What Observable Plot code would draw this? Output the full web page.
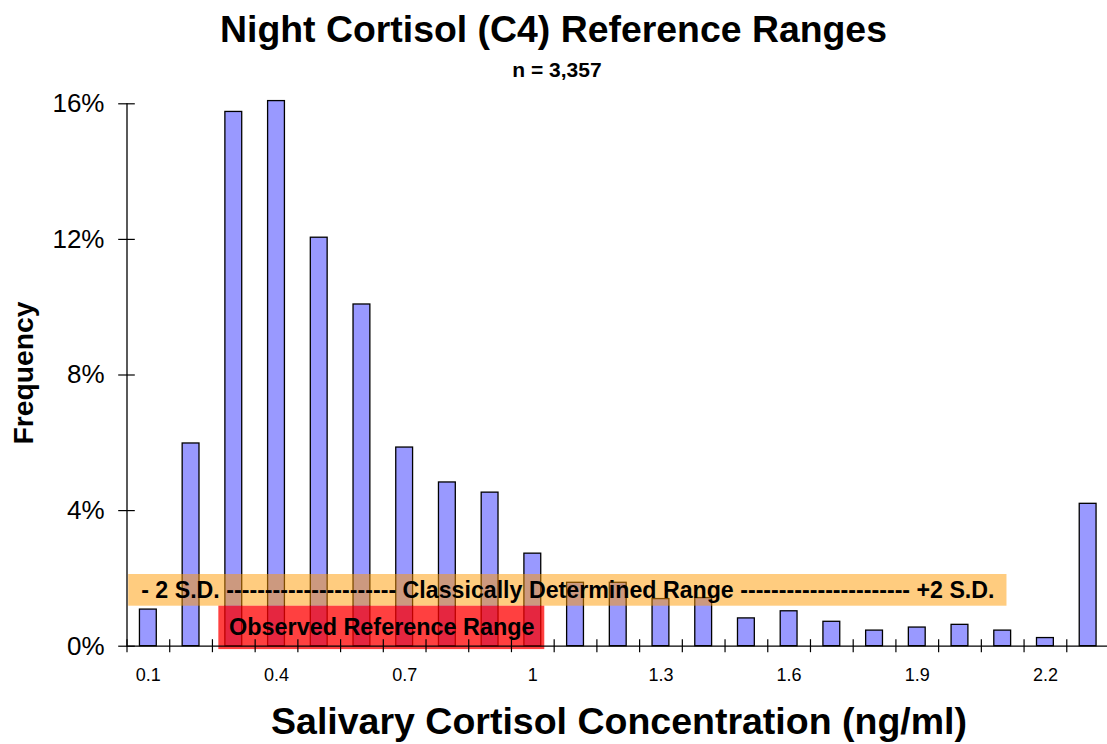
<!DOCTYPE html>
<html>
<head>
<meta charset="utf-8">
<script src="https://cdn.jsdelivr.net/npm/d3@7"></script>
<script src="https://cdn.jsdelivr.net/npm/@observablehq/plot@0.6"></script>
<style>
  html, body { margin: 0; padding: 0; background: #ffffff; overflow: hidden; }
  #wrap { position: relative; width: 1107px; height: 744px; overflow: hidden; background: #ffffff;
          font-family: "Liberation Sans", Arial, Helvetica, sans-serif; color: #000; }
  #chart { position: absolute; left: 0; top: 0; }
  .lbl { position: absolute; white-space: nowrap; font-weight: bold; line-height: 1; transform: translateX(-50%); }
</style>
</head>
<body>
<div id="wrap">
  <div id="chart"></div>
  <div class="lbl" id="title" style="left:553.5px; top:11.3px; font-size:37.4px;">Night Cortisol (C4) Reference Ranges</div>
  <div class="lbl" id="subtitle" style="left:557px; top:59px; font-size:21px;">n = 3,357</div>
  <div class="lbl" id="xtitle" style="left:619px; top:703.3px; font-size:37.5px;">Salivary Cortisol Concentration (ng/ml)</div>
  <div class="lbl" id="ytitle" style="left:23px; top:373px; font-size:28.3px; transform: translate(-50%,-50%) rotate(-90deg);">Frequency</div>
</div>
<script>
// ---- data ----
const concentrations = [0.1, 0.2, 0.3, 0.4, 0.5, 0.6, 0.7, 0.8, 0.9, 1.0, 1.1, 1.2,
                        1.3, 1.4, 1.5, 1.6, 1.7, 1.8, 1.9, 2.0, 2.1, 2.2, 2.3];
const frequencies = [1.08, 5.98, 15.76, 16.08, 12.05, 10.08, 5.86, 4.83, 4.53, 2.73, 1.87, 1.87,
                     1.39, 1.42, 0.82, 1.03, 0.72, 0.46, 0.55, 0.63, 0.46, 0.24, 4.20];
const xTickLabels = [0.1, 0.4, 0.7, 1.0, 1.3, 1.6, 1.9, 2.2];
const yTicks = [0, 4, 8, 12, 16];

const classicalRangeX = [0.054, 2.11];
const classicalRangeY = [1.18, 2.115];
const classicalLabel = "- 2 S.D. ---------------------- Classically Determined Range ---------------------- +2 S.D.";
const observedRangeX = [0.265, 1.028];
const observedRangeY = [-0.1, 1.18];
const observedLabel = "Observed Reference Range";

// ---- tables ----
const step = 0.1;
const bars = concentrations.map((c, i) => ({c, f: frequencies[i]}));
const boundaries = concentrations.map(c => +(c - step / 2).toFixed(2));
const xDomain = [concentrations[0] - step / 2, concentrations[concentrations.length - 1] + step / 2];
const halfBar = 0.0197;
const ranges = [
  {x1: classicalRangeX[0], x2: classicalRangeX[1], y1: classicalRangeY[0], y2: classicalRangeY[1], label: classicalLabel, fill: "#FF9900", op: 0.5, size: 23.2},
  {x1: observedRangeX[0], x2: observedRangeX[1], y1: observedRangeY[0], y2: observedRangeY[1], label: observedLabel, fill: "#FF0000", op: 0.75, size: 23.4}
];

const chart = Plot.plot({
  width: 1107,
  height: 744,
  marginLeft: 126.5,
  marginRight: -2,
  marginTop: 103.3,
  marginBottom: 98.3,
  x: {type: "linear", domain: xDomain, label: null},
  y: {domain: [0, 16], label: null},
  style: {fontFamily: "'Liberation Sans', Arial, sans-serif", color: "#000", background: "transparent", overflow: "visible"},
  marks: [
    Plot.rectY(bars, {x1: d => d.c - halfBar, x2: d => d.c + halfBar, y1: 0, y2: "f",
                      fill: "#9999FF", stroke: "#000", strokeWidth: 1.3}),
    Plot.rect(ranges, {x1: "x1", x2: "x2", y1: "y1", y2: "y2", fill: "fill", fillOpacity: "op"}),
    Plot.text(ranges.slice(0, 1), {x: d => (d.x1 + d.x2) / 2, y: d => (d.y1 + d.y2) / 2, text: "label",
                       fontSize: ranges[0].size, fontWeight: "bold", fill: "#000"}),
    Plot.text(ranges.slice(1), {x: d => (d.x1 + d.x2) / 2, y: d => (d.y1 + d.y2) / 2, text: "label",
                       fontSize: ranges[1].size, fontWeight: "bold", fill: "#000"}),
    Plot.ruleY([0], {stroke: "#000", strokeWidth: 1.3}),
    Plot.ruleX([xDomain[0]], {y1: 0, y2: 16, stroke: "#000", strokeWidth: 1.3}),
    Plot.axisY(yTicks, {tickSize: 16.6, dx: 8.3, tickPadding: 14.2, tickFormat: d => d + "%",
                        fontSize: 26, label: null, strokeWidth: 1.2}),
    Plot.axisX(boundaries, {tickSize: 13, dy: -6.5, tickFormat: () => "", label: null, strokeWidth: 1.2}),
    Plot.axisX(xTickLabels, {tickSize: 0, tickPadding: 22, fontSize: 18, label: null,
                             tickFormat: d => String(+d.toFixed(1))})
  ]
});
document.getElementById("chart").appendChild(chart);
</script>
</body>
</html>
